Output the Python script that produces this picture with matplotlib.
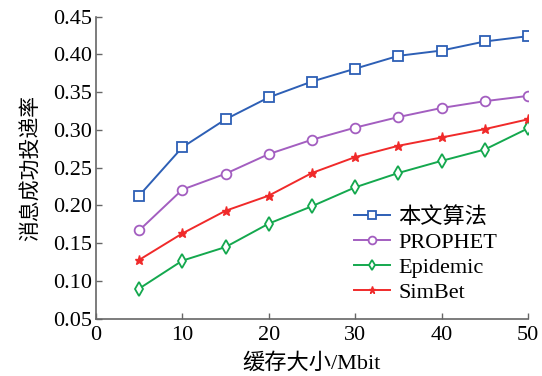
import matplotlib
matplotlib.use("Agg")
import matplotlib.pyplot as plt

plt.rcParams['font.family'] = ['Liberation Serif', 'Noto Sans CJK SC']

buffer_sizes = [5, 10, 15, 20, 25, 30, 35, 40, 45, 50]
ours = [0.213, 0.277, 0.314, 0.343, 0.364, 0.381, 0.398, 0.405, 0.417, 0.424]
prophet = [0.167, 0.221, 0.242, 0.268, 0.287, 0.303, 0.317, 0.329, 0.338, 0.345]
epidemic = [0.090, 0.127, 0.145, 0.176, 0.199, 0.224, 0.243, 0.259, 0.274, 0.302]
simbet = [0.128, 0.163, 0.193, 0.213, 0.243, 0.264, 0.279, 0.290, 0.301, 0.314]

labels = ['本文算法', 'PROPHET', 'Epidemic', 'SimBet']
x_ticks = [0, 10, 20, 30, 40, 50]
y_ticks = [0.05, 0.10, 0.15, 0.20, 0.25, 0.30, 0.35, 0.40, 0.45]

fig = plt.figure(figsize=(5.42, 3.76), dpi=100)
ax = fig.add_axes([0.177, 0.152, 0.797, 0.804])

ax.plot(buffer_sizes, ours, color='#2d5fb5', marker='s', mfc='white', mec='#2d5fb5',
        ms=7, mew=1.3, lw=1.4, label=labels[0])
ax.plot(buffer_sizes, prophet, color='#a35ec0', marker='o', mfc='white', mec='#a35ec0',
        ms=7, mew=1.3, lw=1.4, label=labels[1])
ax.plot(buffer_sizes, epidemic, color='#14a84e', marker='d', mfc='white', mec='#14a84e',
        ms=7, mew=1.3, lw=1.4, label=labels[2])
ax.plot(buffer_sizes, simbet, color='#f02a2a', marker='*', mfc='#f02a2a', mec='#f02a2a',
        ms=6.5, mew=1.0, lw=1.4, label=labels[3])

ax.set_xlim(0, 50)
ax.set_ylim(0.05, 0.45)
ax.set_xticks(x_ticks)
ax.set_yticks(y_ticks)
ax.set_yticklabels([f'{v:.2f}' for v in y_ticks])
ax.tick_params(direction='in', length=4, width=1, color='#666666', labelsize=16, pad=3)
ax.tick_params(axis='x', pad=5)
for s in ['top', 'right']:
    ax.spines[s].set_visible(False)
for s in ['left', 'bottom']:
    ax.spines[s].set_color('#666666')
    ax.spines[s].set_linewidth(1.2)

ax.set_xlabel('缓存大小/Mbit', fontsize=16, labelpad=6)
ax.set_ylabel('消息成功投递率', fontsize=15, labelpad=8)

ax.legend(loc='lower left', frameon=False, fontsize=16, handlelength=1.6,
          handletextpad=0.4, borderaxespad=0.0, labelspacing=0.2, markerscale=0.8,
          bbox_to_anchor=(0.637, 0.17), bbox_transform=fig.transFigure)

fig.savefig('out.png', dpi=100)
